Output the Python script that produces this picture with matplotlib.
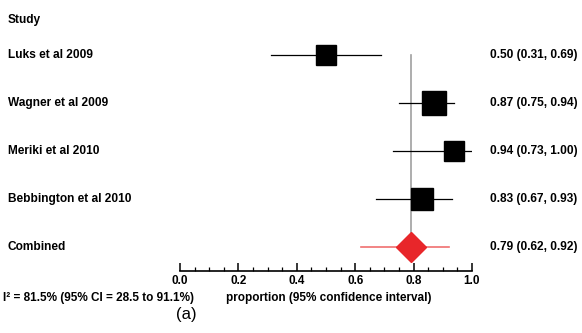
import matplotlib.pyplot as plt
from matplotlib import transforms

plt.rcParams['font.family'] = ['Liberation Sans', 'DejaVu Sans']

studies = ['Luks et al 2009', 'Wagner et al 2009', 'Meriki et al 2010', 'Bebbington et al 2010']
est = [0.50, 0.87, 0.94, 0.83]
lo = [0.31, 0.75, 0.73, 0.67]
hi = [0.69, 0.94, 1.00, 0.93]
sizes = [15.0, 17.0, 14.5, 16.5]  # marker sizes (weights)
comb_est, comb_lo, comb_hi = 0.79, 0.62, 0.92
ticks = [0.0, 0.2, 0.4, 0.6, 0.8, 1.0]

W, H = 582, 333
fig = plt.figure(figsize=(W / 100, H / 100), dpi=100)
ax = fig.add_axes([180 / W, 1 - 271 / H, 292 / W, (271 - 10) / H])

# row positions: Luks=4 ... Combined=0
rows = [4, 3, 2, 1]
ax.set_xlim(0, 1)
# pixel 55 -> y=4, 247 -> y=0 ; spacing 48 px
ax.set_ylim(-24 / 48, 4 + 45 / 48)

ax.plot([comb_est, comb_est], [4, 0], color='#a0a0a0', lw=1.2, zorder=1)

for y, e, l, h, s in zip(rows, est, lo, hi, sizes):
    ax.plot([l, h], [y, y], color='black', lw=0.9, zorder=2)
    ax.plot(e, y, marker='s', ms=s, color='black', zorder=3)

ax.plot([comb_lo, comb_hi], [0, 0], color='#f07070', lw=1.2, zorder=2)
ax.plot(comb_est, 0, marker='D', ms=15.5, color='#e8262a', mec='#e8262a', zorder=3)

for sp in ['top', 'right', 'left']:
    ax.spines[sp].set_visible(False)
ax.spines['bottom'].set_linewidth(1.2)
ax.set_yticks([])
ax.set_xticks(ticks)
ax.set_xticklabels(['%.1f' % t for t in ticks], fontsize=8.5, fontweight='bold')
ax.set_xticks([i * 0.05 for i in range(21)], minor=True)
ax.tick_params(axis='x', which='major', direction='in', length=6, width=1.1, pad=3)
ax.tick_params(axis='x', which='minor', direction='in', length=3, width=0.9)

fs = 8.6
tr = transforms.blended_transform_factory(fig.transFigure, ax.transData)
fig.text(8 / W, 1 - 20 / H, 'Study', fontsize=fs, fontweight='bold', va='center')
for y, name in zip(rows, studies):
    ax.text(8 / W, y, name, transform=tr, fontsize=fs, fontweight='bold', va='center')
ax.text(8 / W, 0, 'Combined', transform=tr, fontsize=fs, fontweight='bold', va='center')

for y, e, l, h in zip(rows, est, lo, hi):
    ax.text(490 / W, y, '%.2f (%.2f, %.2f)' % (e, l, h), transform=tr,
            fontsize=fs, fontweight='bold', va='center')
ax.text(490 / W, 0, '%.2f (%.2f, %.2f)' % (comb_est, comb_lo, comb_hi), transform=tr,
        fontsize=fs, fontweight='bold', va='center')

fig.text(3 / W, 1 - 298 / H, 'I² = 81.5% (95% CI = 28.5 to 91.1%)', fontsize=8.5,
         fontweight='bold', va='center')
fig.text(226 / W, 1 - 298 / H, 'proportion (95% confidence interval)', fontsize=8.5,
         fontweight='bold', va='center')
fig.text(186 / W, 1 - 315 / H, '(a)', fontsize=12, ha='center', va='center')

fig.savefig('out.png', dpi=100)
